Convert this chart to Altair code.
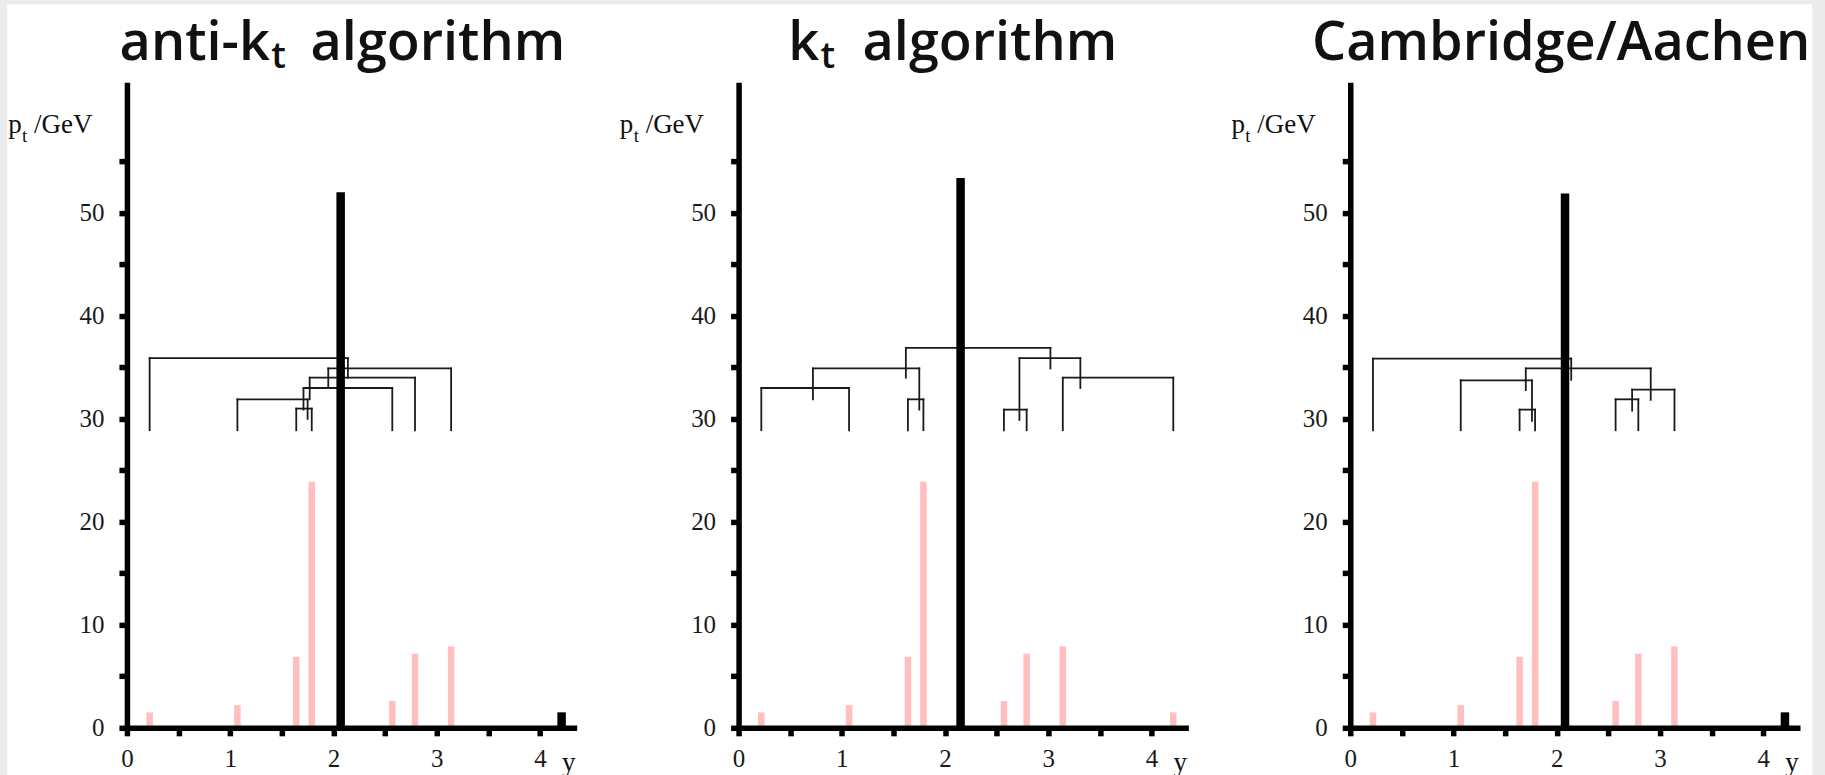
import altair as alt
import pandas as pd

# ---------------- data ----------------
# particles: rapidity y and transverse momentum pt (GeV)
particle_y = [0.22, 1.07, 1.64, 1.79, 2.57, 2.79, 3.14, 4.21]
particle_pt = [1.5, 2.2, 6.9, 23.9, 2.6, 7.2, 7.9, 1.5]

# resulting jets (thick black bars)
antikt_jet_y = [2.07, 4.21]
antikt_jet_pt = [52.0, 1.5]
kt_jet_y = [2.15]
kt_jet_pt = [53.4]
ca_jet_y = [2.08, 4.21]
ca_jet_pt = [51.9, 1.5]

# clustering sequences (dendrograms): left/right leg positions, merge level,
# lower ends of the left/right legs
antikt_left = [1.64, 1.07, 1.71, 1.77, 1.95, 0.22]
antikt_right = [1.79, 1.75, 2.57, 2.79, 3.14, 2.14]
antikt_level = [31.0, 31.9, 33.0, 34.0, 34.9, 35.9]
antikt_left_end = [28.9, 28.9, 30.9, 31.9, 33.0, 28.9]
antikt_right_end = [28.9, 30.0, 28.9, 28.9, 28.9, 34.0]

kt_left = [2.57, 1.64, 0.22, 3.14, 0.72, 2.72, 1.62]
kt_right = [2.79, 1.79, 1.07, 4.21, 1.75, 3.31, 3.02]
kt_level = [30.9, 31.9, 33.0, 34.0, 34.9, 35.9, 36.9]
kt_left_end = [28.9, 28.9, 28.9, 28.9, 31.9, 29.9, 34.0]
kt_right_end = [28.9, 28.9, 28.9, 28.9, 30.9, 33.0, 34.9]

ca_left = [1.64, 2.57, 2.73, 1.07, 1.70, 0.22]
ca_right = [1.79, 2.79, 3.14, 1.76, 2.91, 2.14]
ca_level = [30.9, 31.9, 32.85, 33.75, 34.9, 35.85]
ca_left_end = [28.9, 28.9, 30.8, 28.9, 32.8, 28.9]
ca_right_end = [28.9, 28.9, 28.9, 29.8, 31.85, 33.8]

x_tick_values = [0, 0.5, 1, 1.5, 2, 2.5, 3, 3.5, 4]
y_tick_values = [0, 5, 10, 15, 20, 25, 30, 35, 40, 45, 50, 55]
x_max = 4.356
y_max = 62.7

title_antikt = ["anti-k", "t", "algorithm"]
title_kt = ["k", "t", "algorithm"]
title_ca = ["Cambridge/Aachen"]
ylabel_parts = ["p", "t", "/GeV"]
xlabel_text = "y"

# ---------------- chart ----------------
W, H = 450, 646
INK = "#111111"

x_enc = alt.X(
    "rap:Q",
    scale=alt.Scale(domain=[0, x_max], nice=False, zero=False),
    axis=alt.Axis(
        values=x_tick_values,
        labelExpr="datum.value % 1 === 0 ? format(datum.value, 'd') : ''",
        domainWidth=5.5, domainColor="black",
        tickWidth=5.5, tickSize=8, tickColor="black",
        labelFont="Liberation Serif", labelFontSize=25, labelColor="#1a1a1a",
        labelPadding=11, labelFlush=False, labelOverlap=False,
        title=None, grid=False, zindex=1,
    ),
)
y_enc = alt.Y(
    "top:Q",
    scale=alt.Scale(domain=[0, y_max], nice=False, zero=False),
    axis=alt.Axis(
        values=y_tick_values,
        labelExpr="datum.value % 10 === 0 ? format(datum.value, 'd') : ''",
        domainWidth=5.5, domainColor="black",
        tickWidth=5.5, tickSize=8, tickColor="black",
        labelFont="Liberation Serif", labelFontSize=25, labelColor="#1a1a1a",
        labelPadding=15, labelOverlap=False,
        title=None, grid=False, zindex=1,
    ),
)


def text_layer(text, x, y, size, font, align="left", weight="normal"):
    return alt.Chart(pd.DataFrame({"label": [text]})).mark_text(
        align=align, baseline="alphabetic", font=font, fontSize=size,
        fontWeight=weight, color=INK,
    ).encode(x=alt.value(x), y=alt.value(y), text="label:N")


def dendro_frame(left, right, level, lend, rend):
    rows = []
    for l, r, h, a, b in zip(left, right, level, lend, rend):
        rows.append({"rap": l, "rap2": r, "top": h, "bot": h})
        rows.append({"rap": l, "rap2": l, "top": h, "bot": a})
        rows.append({"rap": r, "rap2": r, "top": h, "bot": b})
    return pd.DataFrame(rows)


TITLE_FONT = "Open Sans"
SERIF = "Liberation Serif"


def panel(jet_y, jet_pt, dendro, title_layers, background=False):
    parts = pd.DataFrame({"rap": particle_y, "top": particle_pt, "bot": 0.0})
    jets = pd.DataFrame({"rap": jet_y, "top": jet_pt, "bot": 0.0})

    layers = []
    if background:
        layers.append(
            alt.Chart(pd.DataFrame({"a": [0]})).mark_rect(color="white").encode(
                x=alt.value(-119.7), x2=alt.value(1686.3),
                y=alt.value(-78), y2=alt.value(720),
            )
        )
    pink = alt.Chart(parts).mark_rule(color="#ffbfbf", strokeWidth=6.5).encode(
        x=x_enc, y=y_enc, y2="bot:Q"
    )
    tree = alt.Chart(dendro).mark_rule(
        color="#1a1a1a", strokeWidth=1.8, strokeCap="square"
    ).encode(x=x_enc, x2="rap2:Q", y=y_enc, y2="bot:Q")
    jet = alt.Chart(jets).mark_rule(color="black", strokeWidth=8.5).encode(
        x=x_enc, y=y_enc, y2="bot:Q"
    )
    layers += [pink, tree, jet]
    layers += [
        text_layer(ylabel_parts[0], -118.8, 51, 27, SERIF),
        text_layer(ylabel_parts[1], -105, 60, 19, SERIF),
        text_layer(ylabel_parts[2], -93, 51, 27, SERIF),
        text_layer(xlabel_text, 442, 689, 27, SERIF, align="center"),
    ]
    layers += title_layers
    return alt.layer(*layers).properties(width=W, height=H)


p1 = panel(
    antikt_jet_y, antikt_jet_pt,
    dendro_frame(antikt_left, antikt_right, antikt_level, antikt_left_end, antikt_right_end),
    [
        text_layer(title_antikt[0], 143, -22, 54, TITLE_FONT, align="right", weight=600),
        text_layer(title_antikt[1], 144.5, -14, 37, TITLE_FONT, weight=600),
        text_layer(title_antikt[2], 183.7, -22, 54, TITLE_FONT, weight=600),
    ],
    background=True,
)
p2 = panel(
    kt_jet_y, kt_jet_pt,
    dendro_frame(kt_left, kt_right, kt_level, kt_left_end, kt_right_end),
    [
        text_layer(title_kt[0], 80.5, -22, 54, TITLE_FONT, align="right", weight=600),
        text_layer(title_kt[1], 82, -14, 37, TITLE_FONT, weight=600),
        text_layer(title_kt[2], 124, -22, 54, TITLE_FONT, weight=600),
    ],
)
p3 = panel(
    ca_jet_y, ca_jet_pt,
    dendro_frame(ca_left, ca_right, ca_level, ca_left_end, ca_right_end),
    [text_layer(title_ca[0], 211, -22, 54, TITLE_FONT, align="center", weight=600)],
)

chart = alt.hconcat(p1, p2, p3, spacing=162, bounds="flush").properties(
    background="#ebebeb",
    padding={"left": 7, "top": 4, "right": 12, "bottom": 0},
).configure_view(stroke=None)

chart.save("out.html", embed_options={"renderer": "svg", "actions": False})
